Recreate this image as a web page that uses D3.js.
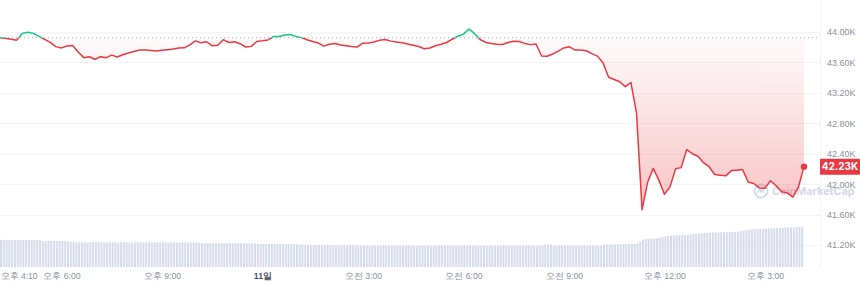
<!DOCTYPE html>
<html>
<head>
<meta charset="utf-8">
<script src="https://cdn.jsdelivr.net/npm/d3@7"></script>
<style>
  body { margin: 0; background: #fff; }
  svg { display: block; font-family: Inter, "Noto Sans CJK KR", "Noto Sans", sans-serif; }
</style>
</head>
<body>
<svg id="chart" width="860" height="285"></svg>
<script>
// price, 10 minute steps from 오후 4:10 (10th) to 오후 4:10 (11th)
var prices = [
  43925, 43918, 43905, 43893, 43982, 43997, 43982, 43943, 43904, 43864, 43808, 43791,
  43817, 43823, 43736, 43663, 43675, 43642, 43674, 43663, 43696, 43671, 43701, 43724,
  43743, 43763, 43763, 43758, 43750, 43761, 43768, 43776, 43789, 43792, 43830, 43883,
  43858, 43872, 43818, 43826, 43899, 43862, 43871, 43846, 43803, 43811, 43875, 43884,
  43895, 43942, 43941, 43961, 43967, 43942, 43926, 43899, 43876, 43855, 43814, 43838,
  43849, 43829, 43818, 43808, 43804, 43853, 43855, 43868, 43893, 43901, 43880, 43868,
  43858, 43841, 43825, 43809, 43780, 43789, 43820, 43839, 43862, 43905, 43945, 43972,
  44039, 43978, 43901, 43863, 43850, 43838, 43836, 43861, 43878, 43874, 43850, 43834,
  43842, 43684, 43681, 43711, 43749, 43791, 43805, 43763, 43763, 43753, 43716, 43683,
  43595, 43405, 43376, 43346, 43282, 43336, 42938, 41665, 42026, 42207, 42053, 41868,
  41964, 42201, 42217, 42455, 42400, 42366, 42282, 42229, 42126, 42118, 42109, 42178,
  42184, 42191, 42029, 42008, 41950, 41945, 42045, 41978, 41899, 41884, 41830, 41960,
  42230
];

// volume (B), 5 minute steps
var volumes = [
  20.4, 20.3, 20.3, 20.4, 20.2, 20.3, 20.3, 20.2, 20.4, 20.3, 20.2, 20.3, 20.3, 20.2, 20.2, 19.6, 19.5, 19.6, 19.5, 19.5, 19.4, 19.5, 19.5, 19.4,
  19.3, 18.9, 18.6, 18.5, 18.5, 18.6, 18.5, 18.4, 18.5, 18.5, 18.6, 18.5, 18.5, 18.4, 18.5, 18.5, 18.6, 18.5, 18.4, 18.5, 18.5, 18.5, 18.4, 18.5,
  18.5, 18.6, 18.5, 18.5, 18.4, 18.5, 18.5, 18.6, 18.5, 18.4, 18.5, 18.5, 18.4, 18.5, 18.5, 18.4, 18.5, 18.4, 18.4, 18.5, 18.4, 18.4, 18.3, 18.3,
  17.9, 17.8, 17.8, 17.8, 17.7, 17.8, 17.8, 17.7, 17.8, 17.8, 17.7, 17.7, 17.8, 17.7, 17.7, 17.8, 17.7, 17.6, 17.7, 17.6, 17.6, 17.3, 17.2, 17.2,
  17.2, 17.2, 17.1, 17.2, 17.2, 17.1, 17.1, 17.2, 17.1, 17.0, 17.0, 16.8, 16.6, 16.5, 16.5, 16.6, 16.5, 16.5, 16.5, 16.4, 16.5, 16.5, 16.4, 16.5,
  16.5, 16.4, 16.5, 16.4, 16.4, 16.5, 16.4, 16.4, 16.3, 16.3, 16.2, 16.1, 16.0, 16.0, 16.1, 16.0, 16.0, 16.0, 15.9, 16.0, 16.0, 16.0, 15.9, 16.0,
  16.0, 15.9, 16.0, 16.0, 15.9, 15.9, 16.0, 16.0, 15.9, 16.0, 16.0, 15.9, 16.0, 16.0, 16.0, 15.9, 16.0, 16.0, 15.9, 16.0, 16.0, 16.0, 16.0, 16.0,
  16.0, 16.0, 16.1, 16.0, 16.0, 16.0, 15.9, 16.0, 16.0, 16.0, 16.0, 16.1, 16.0, 16.0, 16.0, 16.0, 15.9, 16.0, 16.0, 16.0, 16.0, 16.0, 16.0, 16.1,
  16.0, 16.1, 16.2, 16.9, 17.0, 16.9, 16.1, 16.0, 16.0, 16.0, 16.0, 15.9, 16.0, 16.0, 16.0, 16.0, 16.1, 16.0, 16.0, 16.0, 16.1, 16.0, 16.0, 16.1,
  16.4, 16.9, 17.0, 17.0, 17.0, 17.1, 17.0, 17.0, 17.1, 17.1, 17.2, 17.3, 17.6, 19.0, 20.6, 21.0, 21.1, 21.2, 21.4, 21.6, 22.0, 22.4, 23.0, 23.4,
  23.5, 23.6, 23.7, 23.8, 24.0, 24.1, 24.3, 24.5, 24.8, 25.0, 25.2, 25.5, 25.6, 25.7, 25.8, 25.9, 26.0, 26.0, 26.1, 26.1, 26.2, 26.2, 26.3, 26.4,
  26.6, 26.8, 27.2, 27.6, 28.0, 28.3, 28.4, 28.5, 28.6, 28.7, 28.8, 28.9, 29.0, 29.1, 29.2, 29.3, 29.4, 29.5, 29.6, 29.7, 29.8, 29.9, 30.0, 30.2
];

var priceTicks = [41200, 41600, 42000, 42400, 42800, 43200, 43600, 44000];
var timeTicks = [
  "2023-12-10T16:10", "2023-12-10T18:00", "2023-12-10T21:00", "2023-12-11T00:00",
  "2023-12-11T03:00", "2023-12-11T06:00", "2023-12-11T09:00", "2023-12-11T12:00", "2023-12-11T15:00"
];

var startTime = Date.UTC(2023, 11, 10, 16, 10);
var endTime = Date.UTC(2023, 11, 11, 16, 10);
var RED = "#ea3943", GREEN = "#16c784";

var svg = d3.select("#chart");

var x = d3.scaleUtc().domain([startTime, endTime]).range([0, 804]);
var y = d3.scaleLinear().domain([41200, 44000]).range([245, 32]);
var yVol = d3.scaleLinear().domain([0, 30]).range([267, 227]);

var priceData = prices.map(function(p, i){ return {t: new Date(startTime + i * 600000), v: p}; });
var volData = volumes.map(function(v, i){ return {t: new Date(startTime + i * 300000), v: v}; });
var base = prices[0];
var yBase = y(base);
var yMin = y(d3.min(prices));

var defs = svg.append("defs");
var gRed = defs.append("linearGradient").attr("id", "gradRed")
    .attr("gradientUnits", "userSpaceOnUse")
    .attr("x1", 0).attr("x2", 0).attr("y1", yBase).attr("y2", yMin);
gRed.append("stop").attr("offset", 0).attr("stop-color", RED).attr("stop-opacity", 0.02);
gRed.append("stop").attr("offset", 1).attr("stop-color", RED).attr("stop-opacity", 0.3);
var gGreen = defs.append("linearGradient").attr("id", "gradGreen")
    .attr("gradientUnits", "userSpaceOnUse")
    .attr("x1", 0).attr("x2", 0).attr("y1", yBase).attr("y2", y(d3.max(prices)));
gGreen.append("stop").attr("offset", 0).attr("stop-color", GREEN).attr("stop-opacity", 0.02);
gGreen.append("stop").attr("offset", 1).attr("stop-color", GREEN).attr("stop-opacity", 0.12);

defs.append("clipPath").attr("id", "below")
  .append("rect").attr("x", -5).attr("y", yBase).attr("width", 830).attr("height", 285);
defs.append("clipPath").attr("id", "above")
  .append("rect").attr("x", -5).attr("y", -10).attr("width", 830).attr("height", yBase + 10);

// grid
svg.append("g").selectAll("line").data(priceTicks).join("line")
    .attr("x1", 0).attr("x2", 820)
    .attr("y1", function(d){ return Math.round(y(d)) + 0.5; })
    .attr("y2", function(d){ return Math.round(y(d)) + 0.5; })
    .attr("stroke", "#f3f4f7");
svg.append("line").attr("x1", 820.5).attr("x2", 820.5).attr("y1", 0).attr("y2", 268)
    .attr("stroke", "#f3f4f7");

// volume bars
var pitch = x(new Date(startTime + 300000)) - x(new Date(startTime));
svg.append("g").selectAll("rect").data(volData).join("rect")
    .attr("x", function(d){ return x(d.t); })
    .attr("y", function(d){ return yVol(d.v); })
    .attr("width", pitch - 0.8)
    .attr("height", function(d){ return yVol(0) - yVol(d.v); })
    .attr("fill", "#d6dce9");

// watermark
var wm = svg.append("g").attr("transform", "translate(761,191)");
wm.append("circle").attr("r", 6.5).attr("fill", "none").attr("stroke", "#d5dbe6").attr("stroke-width", 1.8);
wm.append("path").attr("d", "M-3.5,2 L-1.3,-1.8 L0,1 L1.3,-1.8 L3.5,2").attr("fill", "none")
    .attr("stroke", "#d5dbe6").attr("stroke-width", 1.4);
wm.append("text").attr("x", 11).attr("dy", "0.36em").text("CoinMarketCap")
    .attr("font-size", 10.8).attr("font-weight", 700).attr("fill", "#d5dbe6");

// areas
var area = d3.area().x(function(d){ return x(d.t); }).y0(yBase).y1(function(d){ return y(d.v); });
svg.append("path").datum(priceData).attr("d", area)
    .attr("fill", "url(#gradRed)").attr("clip-path", "url(#below)");
svg.append("path").datum(priceData).attr("d", area)
    .attr("fill", "url(#gradGreen)").attr("clip-path", "url(#above)");

// baseline
svg.append("line").attr("x1", 0).attr("x2", 818).attr("y1", yBase).attr("y2", yBase)
    .attr("stroke", "#a6adbd").attr("stroke-width", 1).attr("stroke-dasharray", "1,3");

// line
var line = d3.line().x(function(d){ return x(d.t); }).y(function(d){ return y(d.v); });
svg.append("path").datum(priceData).attr("d", line)
    .attr("fill", "none").attr("stroke", RED).attr("stroke-width", 1.5)
    .attr("stroke-linejoin", "round").attr("clip-path", "url(#below)");
svg.append("path").datum(priceData).attr("d", line)
    .attr("fill", "none").attr("stroke", GREEN).attr("stroke-width", 1.5)
    .attr("stroke-linejoin", "round").attr("clip-path", "url(#above)");

var last = priceData[priceData.length - 1];
svg.append("circle").attr("cx", x(last.t)).attr("cy", y(last.v)).attr("r", 3.2).attr("fill", RED);

// y axis
var fmtK = function(d){ return (d / 1000).toFixed(2) + "K"; };
var yAxis = svg.append("g").attr("transform", "translate(827,0)")
    .call(d3.axisRight(y).tickValues(priceTicks).tickFormat(fmtK).tickSize(0).tickPadding(0));
yAxis.select(".domain").remove();
yAxis.selectAll("text").attr("font-size", 9).attr("fill", "#8a91a0").attr("font-family", null);

// current price label
var ly = y(last.v);
svg.append("rect").attr("x", 820).attr("y", ly - 8).attr("width", 40).attr("height", 16).attr("rx", 1)
    .attr("fill", RED);
svg.append("text").attr("x", 840).attr("y", ly).attr("dy", "0.35em").attr("text-anchor", "middle")
    .attr("font-size", 10).attr("font-weight", 700).attr("fill", "#fff").text(fmtK(last.v));

// x axis
var parseT = function(s){ var p = s.split(/[-T:]/).map(Number); return new Date(Date.UTC(p[0], p[1] - 1, p[2], p[3], p[4])); };
var fmtTime = function(d){
  var h = d.getUTCHours(), m = d.getUTCMinutes();
  if (h === 0 && m === 0) return d.getUTCDate() + "일";
  var hh = h % 12 === 0 ? 12 : h % 12;
  return (h < 12 ? "오전 " : "오후 ") + hh + ":" + (m < 10 ? "0" + m : m);
};
var xAxis = svg.append("g").attr("transform", "translate(0,271)")
    .call(d3.axisBottom(x).tickValues(timeTicks.map(parseT)).tickFormat(fmtTime).tickSize(0).tickPadding(0));
xAxis.select(".domain").remove();
xAxis.selectAll("text").attr("font-size", 8.6).attr("fill", "#8a91a0").attr("font-family", null)
    .attr("dy", "0.9em")
    .filter(function(d){ return d.getUTCHours() === 0; })
    .attr("fill", "#4a5262").attr("font-weight", 700);
xAxis.select(".tick text").attr("text-anchor", "start");
</script>
</body>
</html>
